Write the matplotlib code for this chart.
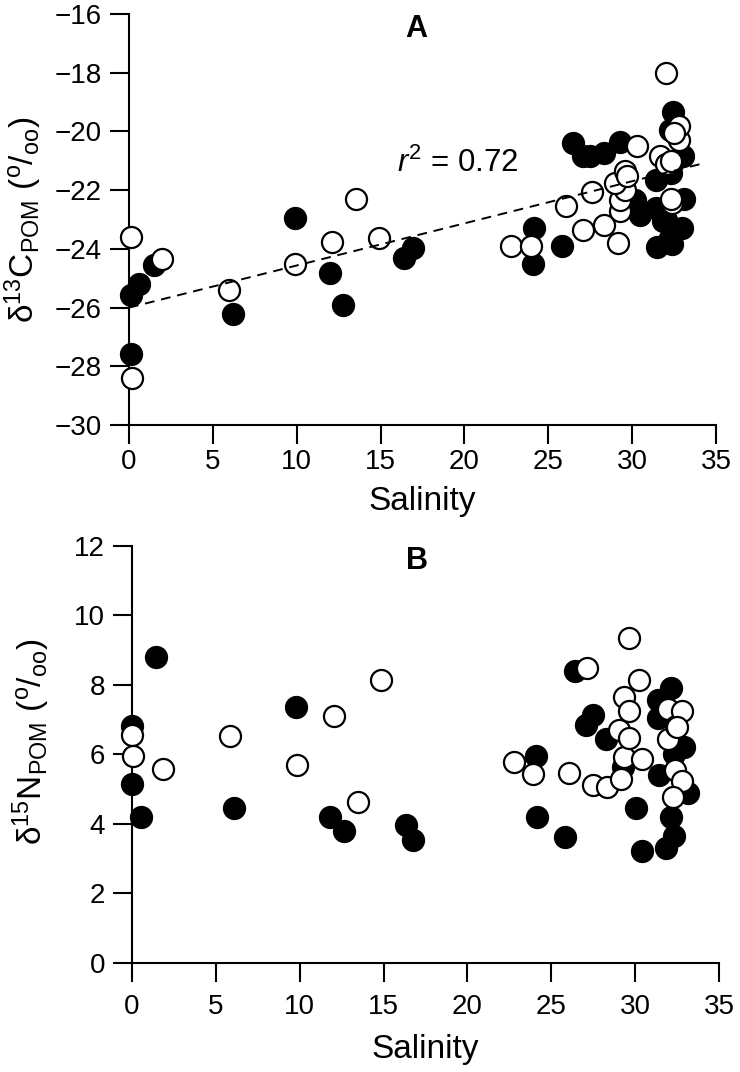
import matplotlib
matplotlib.use("Agg")
from matplotlib import pyplot as plt
import numpy as np

plt.rcParams['font.family'] = ['Liberation Sans', 'DejaVu Sans']
plt.rcParams['mathtext.fontset'] = 'custom'
plt.rcParams['mathtext.rm'] = 'Liberation Sans'
plt.rcParams['mathtext.it'] = 'Liberation Sans:italic'
plt.rcParams['axes.unicode_minus'] = True

# Panel A: d13C of POM vs salinity
a_open_sal = [0.1, 0.2, 1.98, 5.95, 9.92, 12.1, 13.55, 14.88,
              22.8, 23.95, 26.05, 27.1, 27.6, 28.3, 29.15, 29.3, 29.3, 29.6,
              29.0, 29.6, 29.7, 30.3, 31.65, 32.05, 32.3, 32.4, 32.3, 32.8,
              32.8, 32.5, 32.0]
a_open_c13 = [-23.6, -28.4, -24.36, -25.4, -24.5, -23.75, -22.3, -23.63,
              -23.9, -23.9, -22.55, -23.35, -22.05, -23.2, -23.8, -22.7, -22.35, -22.0,
              -21.75, -21.35, -21.5, -20.5, -20.85, -21.1, -21.0, -22.45, -22.3, -20.3,
              -19.8, -20.05, -18.0]
a_fill_sal = [0.1, 0.1, 0.6, 1.5, 6.19, 9.9, 11.96, 12.74, 16.4, 16.96,
              24.1, 24.15, 25.85, 26.5, 27.1, 27.5, 28.3, 29.3, 30.2, 30.5,
              31.45, 31.4, 31.85, 31.5, 32.35, 32.2, 32.95, 33.1, 33.05, 32.3,
              32.25, 32.45, 32.0]
a_fill_c13 = [-27.57, -25.56, -25.2, -24.55, -26.23, -22.94, -24.83, -25.92, -24.3, -23.97,
              -24.5, -23.3, -23.9, -20.4, -20.85, -20.85, -20.75, -20.35, -22.35, -22.85,
              -21.65, -22.6, -23.05, -23.95, -23.85, -23.7, -23.3, -22.3, -20.85, -21.4,
              -19.95, -19.35, -23.0]

# regression line
fit_intercept = -26.0
fit_slope = 0.1435
fit_x = [0, 34.4]
r2_label = 0.72

# Panel B: d15N of POM vs salinity
b_open_sal = [0.0, 0.04, 1.83, 5.86, 9.84, 12.03, 13.46, 14.85,
              22.8, 23.9, 26.08, 27.15, 27.5, 28.3, 29.14, 29.06, 29.34, 29.34,
              29.66, 29.66, 29.64, 30.25, 30.39, 31.98, 31.98, 32.44, 32.78, 32.48,
              32.38, 32.78, 32.28]
b_open_n15 = [6.55, 5.97, 5.57, 6.52, 5.71, 7.11, 4.63, 8.14,
              5.79, 5.43, 5.48, 8.5, 5.12, 5.07, 5.3, 6.69, 5.92, 7.66,
              7.26, 6.48, 9.35, 8.13, 5.87, 7.32, 6.44, 6.82, 7.25, 6.8,
              5.55, 5.25, 4.79]
b_fill_sal = [0.0, 0.0, 0.54, 1.43, 6.1, 9.78, 11.83, 12.66, 16.34, 16.74,
              24.09, 24.17, 25.82, 26.42, 27.47, 27.07, 28.27, 29.3, 30.05, 30.43,
              31.39, 31.39, 31.45, 32.12, 32.3, 32.9, 33.17, 32.14, 32.34, 31.85]
b_fill_n15 = [6.83, 5.16, 4.19, 8.81, 4.46, 7.36, 4.19, 3.8, 3.97, 3.54,
              5.95, 4.2, 3.63, 8.4, 7.15, 6.85, 6.45, 5.65, 4.45, 3.22,
              7.57, 7.04, 5.41, 7.9, 6.0, 6.22, 4.9, 4.2, 3.65, 3.3]

x_ticks = np.arange(0, 36, 5)
a_yticks = np.arange(-30, -15, 2)
b_yticks = np.arange(0, 13, 2)

fig = plt.figure(figsize=(7.4, 10.72), dpi=100)
axA = fig.add_axes([0.1743, 0.6035, 0.7932, 0.3834])
axB = fig.add_axes([0.1784, 0.1017, 0.7932, 0.389])

ms = 230
lw = 1.6


def style_axis(ax, yticks, xpad):
    for s in ['top', 'right']:
        ax.spines[s].set_visible(False)
    for s in ['left', 'bottom']:
        ax.spines[s].set_linewidth(1.5)
    ax.set_xlim(0, 35)
    ax.set_ylim(yticks[0], yticks[-1])
    ax.set_xticks(x_ticks)
    ax.set_yticks(yticks)
    ax.tick_params(axis='both', direction='out', length=13.5, width=1.5,
                   labelsize=20, colors='black')
    ax.tick_params(axis='x', pad=xpad)
    ax.tick_params(axis='y', pad=6)


# Panel A
axA.scatter(a_fill_sal, a_fill_c13, s=ms, c='black', edgecolors='black',
            linewidths=lw, clip_on=False, zorder=3)
axA.scatter(a_open_sal, a_open_c13, s=ms, c='white', edgecolors='black',
            linewidths=lw, clip_on=False, zorder=4)
fx = np.array(fit_x)
axA.plot(fx, fit_intercept + fit_slope * fx, color='black', lw=1.4,
         dashes=(5, 3.5), zorder=5)
axA.text(16.0, -21.07, '$\\mathit{r}^{\\mathrm{2}}$ = %.2f' % r2_label,
         fontsize=22.5, ha='left', va='center')
axA.text(17.1, -16, 'A', fontsize=22, fontweight='bold', ha='center', va='top')
style_axis(axA, a_yticks, 3.5)
axA.set_xlabel('Salinity', fontsize=24, labelpad=8)
axA.set_ylabel('δ$^{13}$C$_{\\mathrm{POM}}$ ($^{\\mathrm{o}}$/$_{\\mathrm{oo}}$)',
               fontsize=24)
axA.yaxis.set_label_coords(-0.145, 0.5)

# Panel B
axB.scatter(b_fill_sal, b_fill_n15, s=ms, c='black', edgecolors='black',
            linewidths=lw, clip_on=False, zorder=3)
axB.scatter(b_open_sal, b_open_n15, s=ms, c='white', edgecolors='black',
            linewidths=lw, clip_on=False, zorder=4)
axB.text(17.0, 12, 'B', fontsize=22, fontweight='bold', ha='center', va='top')
style_axis(axB, b_yticks, 9)
axB.set_xlabel('Salinity', fontsize=24, labelpad=10)
axB.set_ylabel('δ$^{15}$N$_{\\mathrm{POM}}$ ($^{\\mathrm{o}}$/$_{\\mathrm{oo}}$)',
               fontsize=24)
axB.yaxis.set_label_coords(-0.136, 0.53)

fig.savefig('out.png', dpi=100)
